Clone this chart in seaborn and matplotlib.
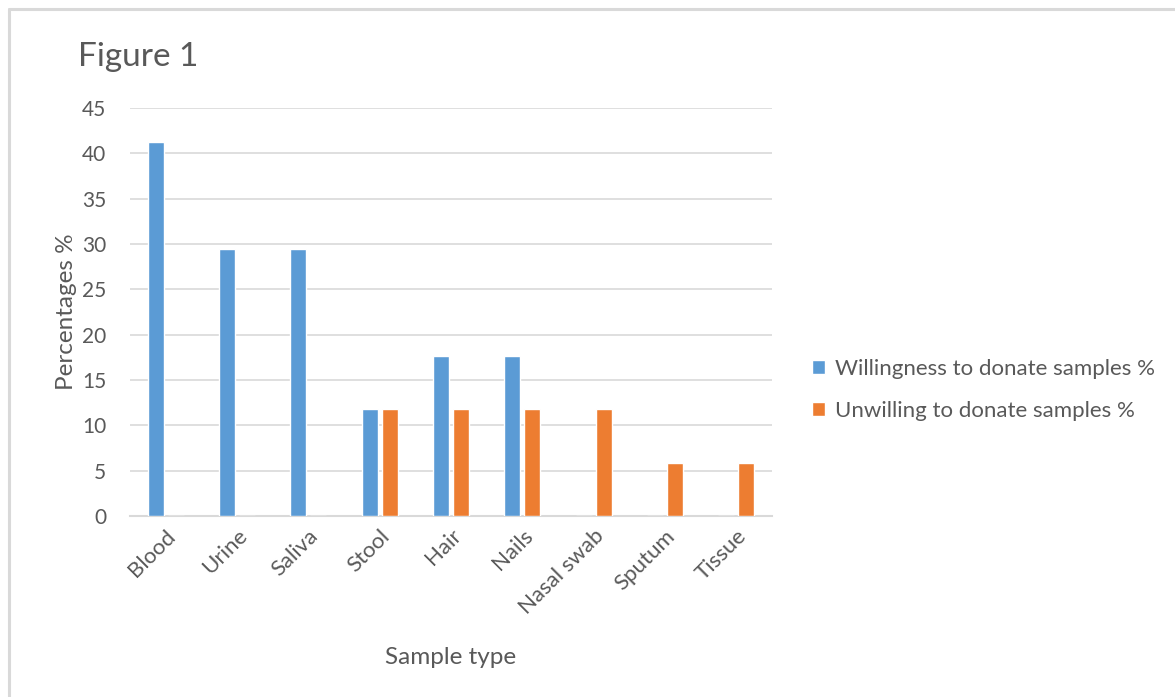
import matplotlib
matplotlib.use("Agg")
import matplotlib.pyplot as plt
from matplotlib.lines import Line2D
import pandas as pd
import seaborn as sns

categories = ["Blood", "Urine", "Saliva", "Stool", "Hair", "Nails",
              "Nasal swab", "Sputum", "Tissue"]
willing = [41.2, 29.4, 29.4, 11.8, 17.6, 17.6, 0, 0, 0]
unwilling = [0, 0, 0, 11.8, 11.8, 11.8, 11.8, 5.9, 5.9]
series_names = ["Willingness to donate samples %", "Unwilling to donate samples %"]
y_ticks = [0, 5, 10, 15, 20, 25, 30, 35, 40, 45]

df = pd.DataFrame({
    "Sample type": categories * 2,
    "Percentage": willing + unwilling,
    "Series": [series_names[0]] * len(categories) + [series_names[1]] * len(categories),
})

sns.set_theme(style="white")
plt.rcParams["font.family"] = ["Lato", "DejaVu Sans"]
text_color = "#595959"
grid_color = "#D9D9D9"

W, H = 1175, 697
fig = plt.figure(figsize=(W / 100, H / 100), dpi=100)
ax = fig.add_axes([130 / W, (H - 516) / H, (772 - 130) / W, (516 - 108) / H])

sns.barplot(data=df, x="Sample type", y="Percentage", hue="Series",
            hue_order=series_names, order=categories,
            palette=["#5B9BD5", "#ED7D31"], width=0.56, gap=0.2,
            saturation=1, ax=ax, legend=True, zorder=3)

ax.set_ylim(0, 45)
ax.set_xlim(-0.5, len(categories) - 0.5)
ax.set_yticks(y_ticks)
ax.yaxis.grid(True, color=grid_color, linewidth=1.2, zorder=0)
ax.set_axisbelow(True)
for side in ["top", "right", "left"]:
    ax.spines[side].set_visible(False)
ax.spines["bottom"].set_color(grid_color)
ax.spines["bottom"].set_linewidth(1.5)
ax.tick_params(axis="y", length=0, colors=text_color, labelsize=15, pad=17)
ax.tick_params(axis="x", length=0, colors=text_color, labelsize=16, pad=7)
for lbl in ax.get_xticklabels():
    lbl.set_rotation(45)
    lbl.set_ha("right")
    lbl.set_va("top")
    lbl.set_rotation_mode("anchor")

ax.set_xlabel("Sample type", fontsize=17.5, color=text_color, labelpad=21)
ax.set_ylabel("Percentages %", fontsize=17.5, color=text_color, labelpad=4)

fig.text(78 / W, (H - 57) / H, "Figure 1", fontsize=24, color=text_color,
         ha="left", va="center")

handles, labels = ax.get_legend_handles_labels()
ax.legend_.remove()
fig.legend(handles, labels, loc="center left",
           bbox_to_anchor=(792 / W, (H - 390) / H), frameon=False,
           fontsize=16, labelcolor=text_color, handlelength=0.6,
           handleheight=0.6, handletextpad=0.45, labelspacing=1.0)

# light frame along the top and left edges
fig.add_artist(Line2D([9 / W, 1], [(H - 9) / H, (H - 9) / H],
                      transform=fig.transFigure, color=grid_color, linewidth=2.2))
fig.add_artist(Line2D([9 / W, 9 / W], [0, (H - 9) / H],
                      transform=fig.transFigure, color=grid_color, linewidth=2.2))

fig.savefig("out.png", dpi=100, facecolor="white")
